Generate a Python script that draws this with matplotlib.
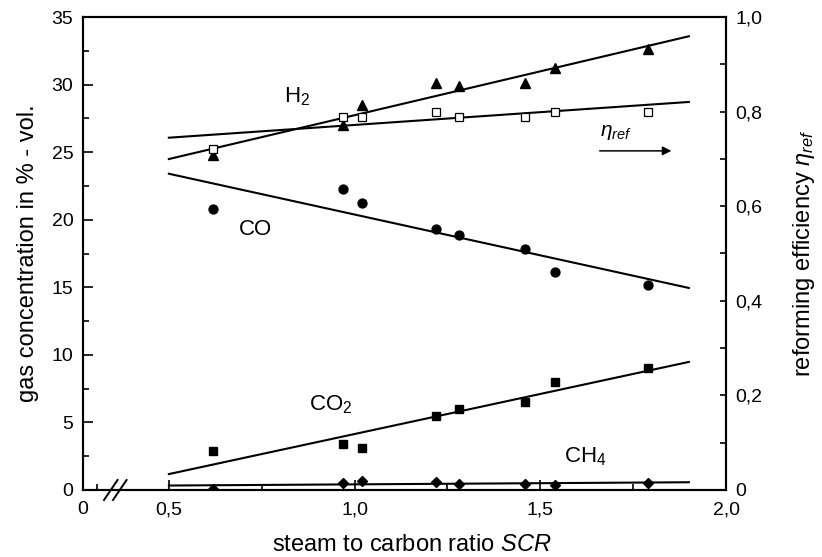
import numpy as np
import matplotlib
matplotlib.use("Agg")
import matplotlib.pyplot as plt
from matplotlib.ticker import FixedLocator, FixedFormatter, MultipleLocator

plt.rcParams['font.family'] = ['Liberation Sans', 'DejaVu Sans']
plt.rcParams['mathtext.fontset'] = 'custom'
plt.rcParams['mathtext.rm'] = 'Liberation Sans'
plt.rcParams['mathtext.it'] = 'Liberation Sans:italic'
plt.rcParams['mathtext.bf'] = 'Liberation Sans:bold'

# steam to carbon ratio of each operating point
scr = [0.62, 0.97, 1.02, 1.22, 1.28, 1.46, 1.54, 1.79]
# product gas composition in % - vol.
h2 = [24.8, 27.0, 28.5, 30.1, 29.9, 30.1, 31.2, 32.6]
co = [20.8, 22.3, 21.2, 19.3, 18.9, 17.8, 16.1, 15.2]
co2 = [2.9, 3.4, 3.1, 5.5, 6.0, 6.5, 8.0, 9.0]
ch4 = [0.1, 0.5, 0.67, 0.6, 0.45, 0.45, 0.4, 0.5]
# reforming efficiency
eta = [0.721, 0.789, 0.789, 0.800, 0.789, 0.789, 0.800, 0.800]

fit_range = [0.5, 1.9]
x_major = [0.0, 0.5, 1.0, 1.5, 2.0]
x_major_labels = ["0", "0,5", "1,0", "1,5", "2,0"]
x_minor = [0.08, 0.75, 1.25, 1.75]
y2_major = [0.0, 0.2, 0.4, 0.6, 0.8, 1.0]
y2_labels = ["0", "0,2", "0,4", "0,6", "0,8", "1,0"]

# broken x axis: the 0 ... 0,5 interval is compressed
C = 86.0 / 186.0


def fwd(x):
    x = np.asarray(x, dtype=float)
    return np.where(x < 0.5, x * C, 0.5 * C + (x - 0.5))


def inv(u):
    u = np.asarray(u, dtype=float)
    return np.where(u < 0.5 * C, u / C, u - 0.5 * C + 0.5)


fig = plt.figure(figsize=(8.22, 5.57), dpi=100)
ax = fig.add_axes([83 / 822, 1 - 490 / 557, 643 / 822, 473 / 557])
ax2 = ax.twinx()

ax.set_xscale('function', functions=(fwd, inv))
ax.set_xlim(0, 2.0)
ax.set_ylim(0, 35)
ax2.set_ylim(0, 1.0)

lw_fit = 1.5
xs = np.array(fit_range)


def fit_line(axis, y):
    p = np.polyfit(scr, y, 1)
    axis.plot(xs, np.polyval(p, xs), color='black', lw=lw_fit, zorder=2)


for series in (h2, co, co2, ch4):
    fit_line(ax, series)
fit_line(ax2, eta)

ax.plot(scr, h2, ls='none', marker='^', ms=7.5, color='black', zorder=3)
ax.plot(scr, co, ls='none', marker='o', ms=6.4, color='black', zorder=3)
ax.plot(scr, co2, ls='none', marker='s', ms=6.0, color='black', zorder=3)
ax.plot(scr, ch4, ls='none', marker='D', ms=5.2, color='black', zorder=3)
ax2.plot(scr, eta, ls='none', marker='s', ms=5.6, mfc='white', mec='black',
         mew=0.9, zorder=3)

# series labels
lab_fs = 16
ax.text(0.81, 29.1, r'H$_2$', fontsize=lab_fs, ha='left', va='center')
ax.text(0.689, 19.25, 'CO', fontsize=lab_fs, ha='left', va='center')
ax.text(0.877, 6.3, r'CO$_2$', fontsize=lab_fs, ha='left', va='center')
ax.text(1.565, 2.45, r'CH$_4$', fontsize=lab_fs, ha='left', va='center')
ax2.text(1.66, 0.748, r'$\eta_{ref}$', fontsize=15, ha='left', va='baseline')
ax2.annotate('', xy=(1.853, 0.717), xytext=(1.66, 0.717),
             arrowprops=dict(arrowstyle='-|>', lw=1.1, color='black',
                             mutation_scale=13, shrinkA=0, shrinkB=0))

# axes frame and ticks
for a in (ax, ax2):
    for s in a.spines.values():
        s.set_linewidth(1.5)

ax.xaxis.set_major_locator(FixedLocator(x_major))
ax.xaxis.set_major_formatter(FixedFormatter(x_major_labels))
ax.xaxis.set_minor_locator(FixedLocator(x_minor))
ax.yaxis.set_major_locator(MultipleLocator(5))
ax.yaxis.set_minor_locator(MultipleLocator(2.5))
ax2.yaxis.set_major_locator(FixedLocator(y2_major))
ax2.yaxis.set_major_formatter(FixedFormatter(y2_labels))
ax2.yaxis.set_minor_locator(MultipleLocator(0.1))

tick_fs = 14
ax.tick_params(axis='x', which='major', direction='in', length=7, width=1.2,
               labelsize=tick_fs, pad=8, top=False)
ax.tick_params(axis='x', which='minor', direction='in', length=4, width=1.2,
               top=False)
ax.tick_params(axis='y', which='major', direction='in', length=7, width=1.2,
               labelsize=tick_fs, pad=7, right=False)
ax.tick_params(axis='y', which='minor', direction='in', length=4, width=1.2,
               right=False)
ax2.tick_params(axis='y', which='both', direction='in', length=4.5, width=1.2,
                labelsize=tick_fs, pad=7)

# hide the first major x tick line at 0 (only the label is shown)
ax.xaxis.get_major_ticks()[0].tick1line.set_visible(False)

# axis break marks
for x0 in (0.0327, 0.0467):
    ax.plot([x0, x0 + 0.0210], [-0.0211, 0.0211], transform=ax.transAxes,
            color='black', lw=1.4, clip_on=False, zorder=5)

label_fs = 17
ax.set_xlabel(r'steam to carbon ratio $SCR$', fontsize=label_fs)
ax.xaxis.label.set_verticalalignment('center')
ax.xaxis.set_label_coords(0.512, -0.117)
ax.set_ylabel('gas concentration in % - vol.', fontsize=label_fs)
ax.yaxis.label.set_verticalalignment('center')
ax.yaxis.set_label_coords(-0.0855, 0.5)
ax2.set_ylabel(r'reforming efficiency $\eta_{ref}$', fontsize=label_fs)
ax2.yaxis.label.set_verticalalignment('center')
ax2.yaxis.set_label_coords(1.122, 0.5)

fig.savefig('out.png', dpi=100)
